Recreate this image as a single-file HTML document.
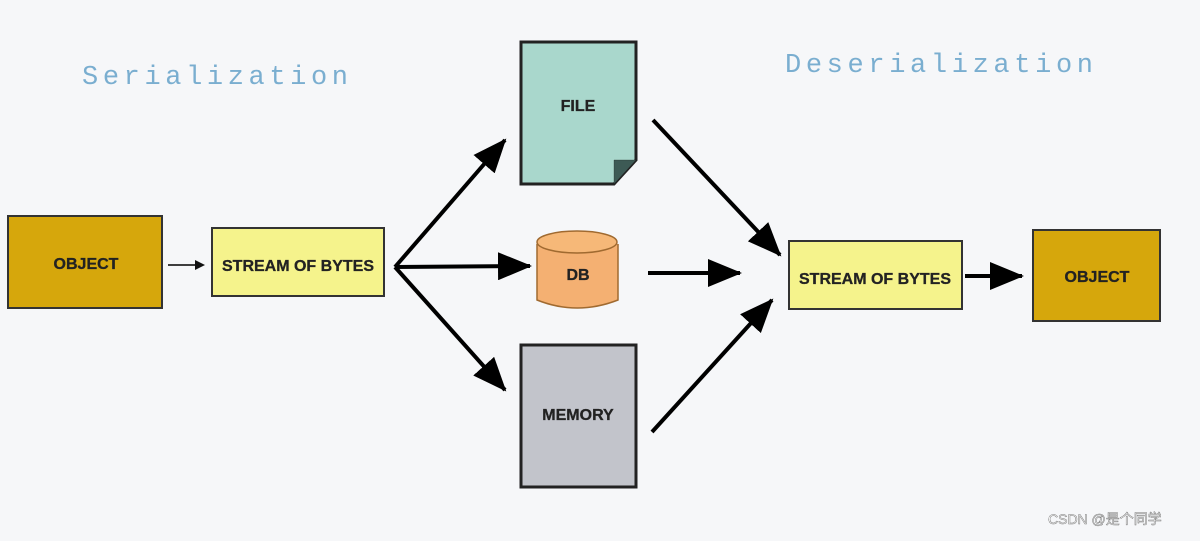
<!DOCTYPE html>
<html><head><meta charset="utf-8"><style>
body{margin:0;width:1200px;height:536px;background:#f6f7f9;overflow:hidden;font-family:"Liberation Sans",sans-serif}
</style></head><body>
<svg width="1200" height="536" xmlns="http://www.w3.org/2000/svg">
<defs>
<marker id="a" markerWidth="10" markerHeight="10" refX="8" refY="5" orient="auto" markerUnits="userSpaceOnUse"><path d="M0,0 L10,5 L0,10z" fill="#111"/></marker>
<marker id="b" markerWidth="34" markerHeight="28" refX="32" refY="14" orient="auto" markerUnits="userSpaceOnUse"><path d="M0,0 L34,14 L0,28z" fill="#000"/></marker>
</defs>
<text x="82" y="84" font-family="Liberation Mono,monospace" font-size="27" fill="#7aaed0" textLength="266" lengthAdjust="spacing">Serialization</text>
<text x="785" y="72" font-family="Liberation Mono,monospace" font-size="27" fill="#7aaed0" textLength="308" lengthAdjust="spacing">Deserialization</text>
<g font-size="16" font-weight="bold" fill="#222" text-anchor="middle" stroke="#222" stroke-width="0.3">
<rect x="8" y="216" width="154" height="92" fill="#d6a70c" stroke="#333" stroke-width="2"/>
<text x="86" y="269">OBJECT</text>
<rect x="212" y="228" width="172" height="68" fill="#f5f38c" stroke="#333" stroke-width="2"/>
<text x="298" y="271" textLength="152" lengthAdjust="spacingAndGlyphs">STREAM OF BYTES</text>
<path d="M521,42 H636 V160 L614,184 H521Z" fill="#a9d7cc" stroke="#222" stroke-width="3"/>
<path d="M614,184 L614,160 L636,160Z" fill="#3d5a55"/>
<text x="578" y="111">FILE</text>
<path d="M537,244 V300 Q577,316 618,300 V244" fill="#f4b072" stroke="#a06a30" stroke-width="1.5"/>
<ellipse cx="577" cy="242" rx="40" ry="11" fill="#f6b878" stroke="#a06a30" stroke-width="1.5"/>
<text x="578" y="280">DB</text>
<rect x="521" y="345" width="115" height="142" fill="#c2c4cb" stroke="#222" stroke-width="3"/>
<text x="578" y="420">MEMORY</text>
<rect x="789" y="241" width="173" height="68" fill="#f5f38c" stroke="#333" stroke-width="2"/>
<text x="875" y="284" textLength="152" lengthAdjust="spacingAndGlyphs">STREAM OF BYTES</text>
<rect x="1033" y="230" width="127" height="91" fill="#d6a70c" stroke="#333" stroke-width="2"/>
<text x="1097" y="282">OBJECT</text>
</g>
<g stroke="#000" stroke-width="4" fill="none">
<line x1="168" y1="265" x2="203" y2="265" stroke-width="1.5" marker-end="url(#a)"/>
<line x1="395" y1="267" x2="505" y2="140" marker-end="url(#b)"/>
<line x1="395" y1="267" x2="530" y2="266" marker-end="url(#b)"/>
<line x1="395" y1="267" x2="505" y2="390" marker-end="url(#b)"/>
<line x1="653" y1="120" x2="780" y2="255" marker-end="url(#b)"/>
<line x1="648" y1="273" x2="740" y2="273" marker-end="url(#b)"/>
<line x1="652" y1="432" x2="772" y2="300" marker-end="url(#b)"/>
<line x1="965" y1="276" x2="1022" y2="276" marker-end="url(#b)"/>
</g>
<text x="1048" y="524" font-family="Liberation Sans,Noto Sans CJK SC,sans-serif" font-size="14" fill="#fff" stroke="#777" stroke-width="0.5">CSDN @是个同学</text>
</svg>
</body></html>
